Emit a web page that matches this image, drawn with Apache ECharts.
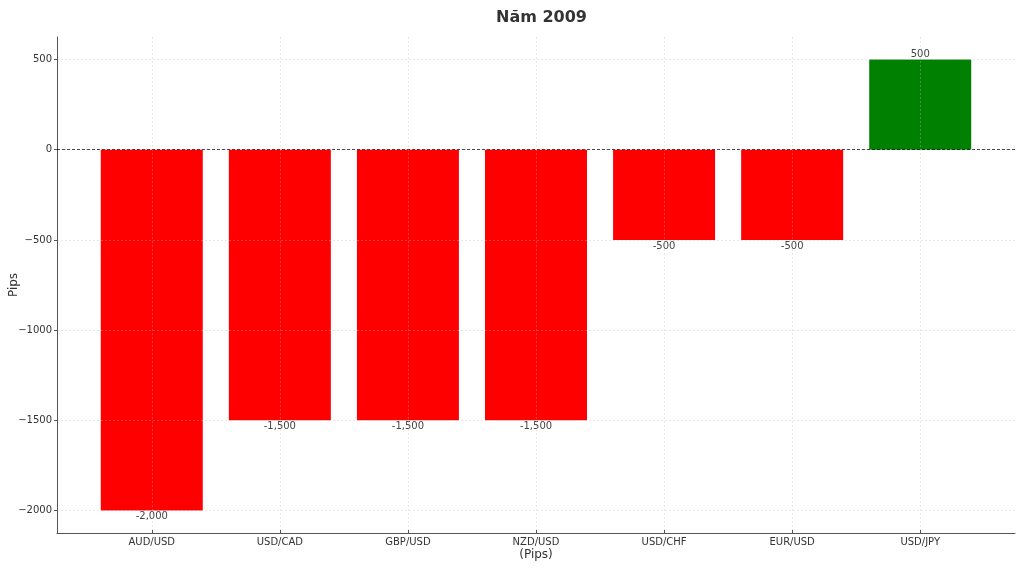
<!DOCTYPE html>
<html><head><meta charset="utf-8">
<script src="https://cdn.jsdelivr.net/npm/echarts@6/dist/echarts.min.js"></script>
<style>html,body{margin:0;padding:0;background:#fff}#c{width:1024px;height:569px}</style>
</head><body><div id="c"></div>
<script>
const categories = ['AUD/USD','USD/CAD','GBP/USD','NZD/USD','USD/CHF','EUR/USD','USD/JPY'];
const pips = [-2000,-1500,-1500,-1500,-500,-500,500];
const yTicks = [-2000,-1500,-1000,-500,0,500];
const titleText = 'Năm 2009';

const FONT = 'DejaVu Sans';
const chart = echarts.init(document.getElementById('c'));
const xIdx = categories.map((_, i) => i);
const data = pips.map((v, i) => ({
  value: [i, v],
  itemStyle: { color: v < 0 ? '#ff0000' : '#008000' },
  label: { position: v < 0 ? 'bottom' : 'top', distance: v < 0 ? 1 : 0 }
}));
const fmt = v => (v < 0 ? '-' : '') + Math.abs(v).toLocaleString('en-US');
const gridLine = { show: true, lineStyle: { color: 'rgba(190,190,190,0.45)', type: [2, 2], width: 0.8 } };

chart.setOption({
  animation: false,
  title: { text: titleText, left: 491, top: 5,
    textStyle: { fontFamily: FONT, fontSize: 16, fontWeight: 'bold', color: '#333' } },
  grid: { left: 57, right: 9, top: 37, bottom: 36, containLabel: false, outerBoundsMode: 'none' },
  xAxis: {
    type: 'value', min: -0.74, max: 6.74, z: 5,
    name: '(Pips)', nameLocation: 'middle', nameGap: 16, nameMoveOverlap: false,
    nameTextStyle: { fontFamily: FONT, fontSize: 12, color: '#333', verticalAlign: 'top' },
    axisLine: { show: true, onZero: false, lineStyle: { color: '#555', width: 1 } },
    axisTick: { show: true, inside: true, length: 3, customValues: xIdx, lineStyle: { color: '#555' } },
    axisLabel: { customValues: xIdx, formatter: v => categories[Math.round(v)], fontFamily: FONT, fontSize: 10, color: '#333', margin: 4 },
    splitLine: gridLine
  },
  yAxis: {
    type: 'value', min: -2125, max: 625, z: 5,
    name: 'Pips', nameLocation: 'middle', nameGap: 37, nameMoveOverlap: false,
    nameTextStyle: { fontFamily: FONT, fontSize: 12, color: '#333' },
    axisLine: { show: true, onZero: false, lineStyle: { color: '#555', width: 1 } },
    axisTick: { show: true, length: 3, customValues: yTicks, lineStyle: { color: '#555' } },
    axisLabel: { customValues: yTicks, formatter: v => (v < 0 ? '\u2212' + Math.abs(v) : String(v)), fontFamily: FONT, fontSize: 10, color: '#333', margin: 5 },
    splitLine: gridLine
  },
  series: [{
    type: 'bar', barWidth: 102, z: 2,
    data: data,
    label: { show: true, formatter: p => fmt(p.value[1]), fontFamily: FONT, fontSize: 10, color: '#444' },
    markLine: { silent: true, symbol: 'none', label: { show: false }, z: 6,
      lineStyle: { color: '#000', type: [3, 2], width: 0.7 },
      data: [{ yAxis: 0 }] }
  }]
});
</script></body></html>
